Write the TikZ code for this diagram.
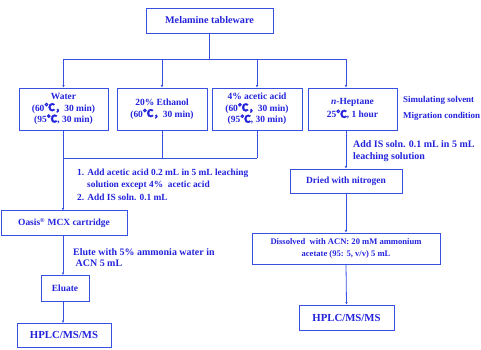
\documentclass[tikz,border=0pt]{standalone}
\usepackage{fontspec}
\setmainfont{Liberation Serif}
\newfontfamily\cjk{Noto Sans CJK SC}[FakeBold=2.5]
\usetikzlibrary{arrows.meta}
\definecolor{txt}{RGB}{35,35,220}
\definecolor{ln}{RGB}{55,80,225}
\newcommand{\degc}{{\cjk\fontsize{10.5}{11}\selectfont ℃}}
\newcommand{\fwc}{{\cjk ，}}
\tikzset{
  box/.style={draw=ln, line width=0.9pt, text=txt, font=\bfseries\fontsize{9.5}{11.5}\selectfont, align=center, inner sep=0pt},
  lab/.style={text=txt, font=\bfseries\fontsize{10}{12.5}\selectfont, align=left, anchor=west, inner sep=0pt},
  conn/.style={draw=ln, line width=0.8pt},
  arr/.style={conn, -{Latex[length=2.5pt,width=2.5pt]}}
}
\begin{document}
\begin{tikzpicture}[x=1bp,y=-1bp]
\useasboundingbox (0,0) rectangle (481,349);
% boxes
\node[box, minimum width=127bp, minimum height=25bp, font=\bfseries\fontsize{10.2}{11}\selectfont] (mel) at (209.5,20.5) {Melamine tableware};
\node[box, minimum width=89bp, minimum height=42bp] (wat) at (63.5,109) {Water\\(60\degc\fwc 30 min)\\(95\degc, 30 min)};
\node[box, minimum width=90bp, minimum height=42bp] (eth) at (162,109) {20\% Ethanol\\(60\degc\fwc 30 min)};
\node[box, minimum width=90bp, minimum height=42bp] (ace) at (257,109) {4\% acetic acid\\(60\degc\fwc 30 min)\\(95\degc, 30 min)};
\node[box, minimum width=89bp, minimum height=42bp, font=\bfseries\fontsize{9.5}{13}\selectfont] (hep) at (352.5,109) {\textit{n}-Heptane\\25\degc, 1 hour};
\node[lab, font=\bfseries\fontsize{9}{10}\selectfont] (sim) at (403,100) {Simulating solvent};
\node[lab, font=\bfseries\fontsize{9}{10}\selectfont] (mig) at (403,116) {Migration condition};
\node[box, minimum width=126bp, minimum height=25bp] (oas) at (64,223) {Oasis\textsuperscript{\fontsize{6}{6}\selectfont\textregistered} MCX cartridge};
\node[box, minimum width=48bp, minimum height=26bp] (elu) at (65,288) {Eluate};
\node[box, minimum width=94bp, minimum height=24bp, font=\bfseries\fontsize{10.8}{12}\selectfont] (hp1) at (64,335) {HPLC/MS/MS};
\node[box, minimum width=112bp, minimum height=24bp] (dri) at (346,181) {Dried with nitrogen};
\node[box, minimum width=188bp, minimum height=31bp, font=\bfseries\fontsize{8.6}{12}\selectfont] (dis) at (346,248.5) {Dissolved\ \ with ACN: 20 mM ammonium\\acetate (95: 5, v/v) 5 mL};
\node[box, minimum width=95bp, minimum height=25bp, font=\bfseries\fontsize{10.8}{12}\selectfont] (hp2) at (346.5,317.5) {HPLC/MS/MS};
% labels
\node[lab, font=\bfseries\fontsize{9.4}{12.5}\selectfont] (st1) at (77,184.5) {1. Add acetic acid 0.2 mL in 5 mL leaching\\\hspace*{10bp}solution except 4\%\ \ acetic acid\\2. Add IS soln. 0.1 mL};
\node[lab, font=\bfseries\fontsize{10}{12}\selectfont] (st2) at (353,151) {Add IS soln. 0.1 mL in 5 mL\\leaching solution};
\node[lab, font=\bfseries\fontsize{10}{11.5}\selectfont] (st3) at (73,257.5) {Elute with 5\% ammonia water in\\\ ACN 5 mL};
% connectors
\coordinate (t0) at (mel.south |- 0,59);
\coordinate (tl) at (wat.north |- 0,59);
\coordinate (te) at (eth.north |- 0,59);
\coordinate (ta) at (ace.north |- 0,59);
\coordinate (th) at (346,59);
\draw[conn] (mel.south) -- (t0);
\draw[conn] (tl) -- (th);
\draw[arr] (tl) -- (wat.north);
\draw[arr] (te) -- (eth.north);
\draw[arr] (ta) -- (ace.north);
\draw[arr] (th) -- (th |- hep.north);
\coordinate (jl) at (63,158);
\coordinate (je) at (eth.south |- 0,158);
\coordinate (ja) at (ace.south |- 0,158);
\draw[conn] (63,130) -- (jl);
\draw[conn] (eth.south) -- (je);
\draw[conn] (ace.south) -- (ja);
\draw[conn] (jl) -- (ja);
\draw[arr] (jl) -- (63,210.5);
\draw[arr] (63,235.5) -- (63,275);
\draw[arr] (63,301) -- (63,323);
\draw[arr] (346,130) -- (dri.north);
\draw[arr] (dri.south) -- (dis.north);
\draw[arr] (dis.south) -- (hp2.north);
\end{tikzpicture}
\end{document}
